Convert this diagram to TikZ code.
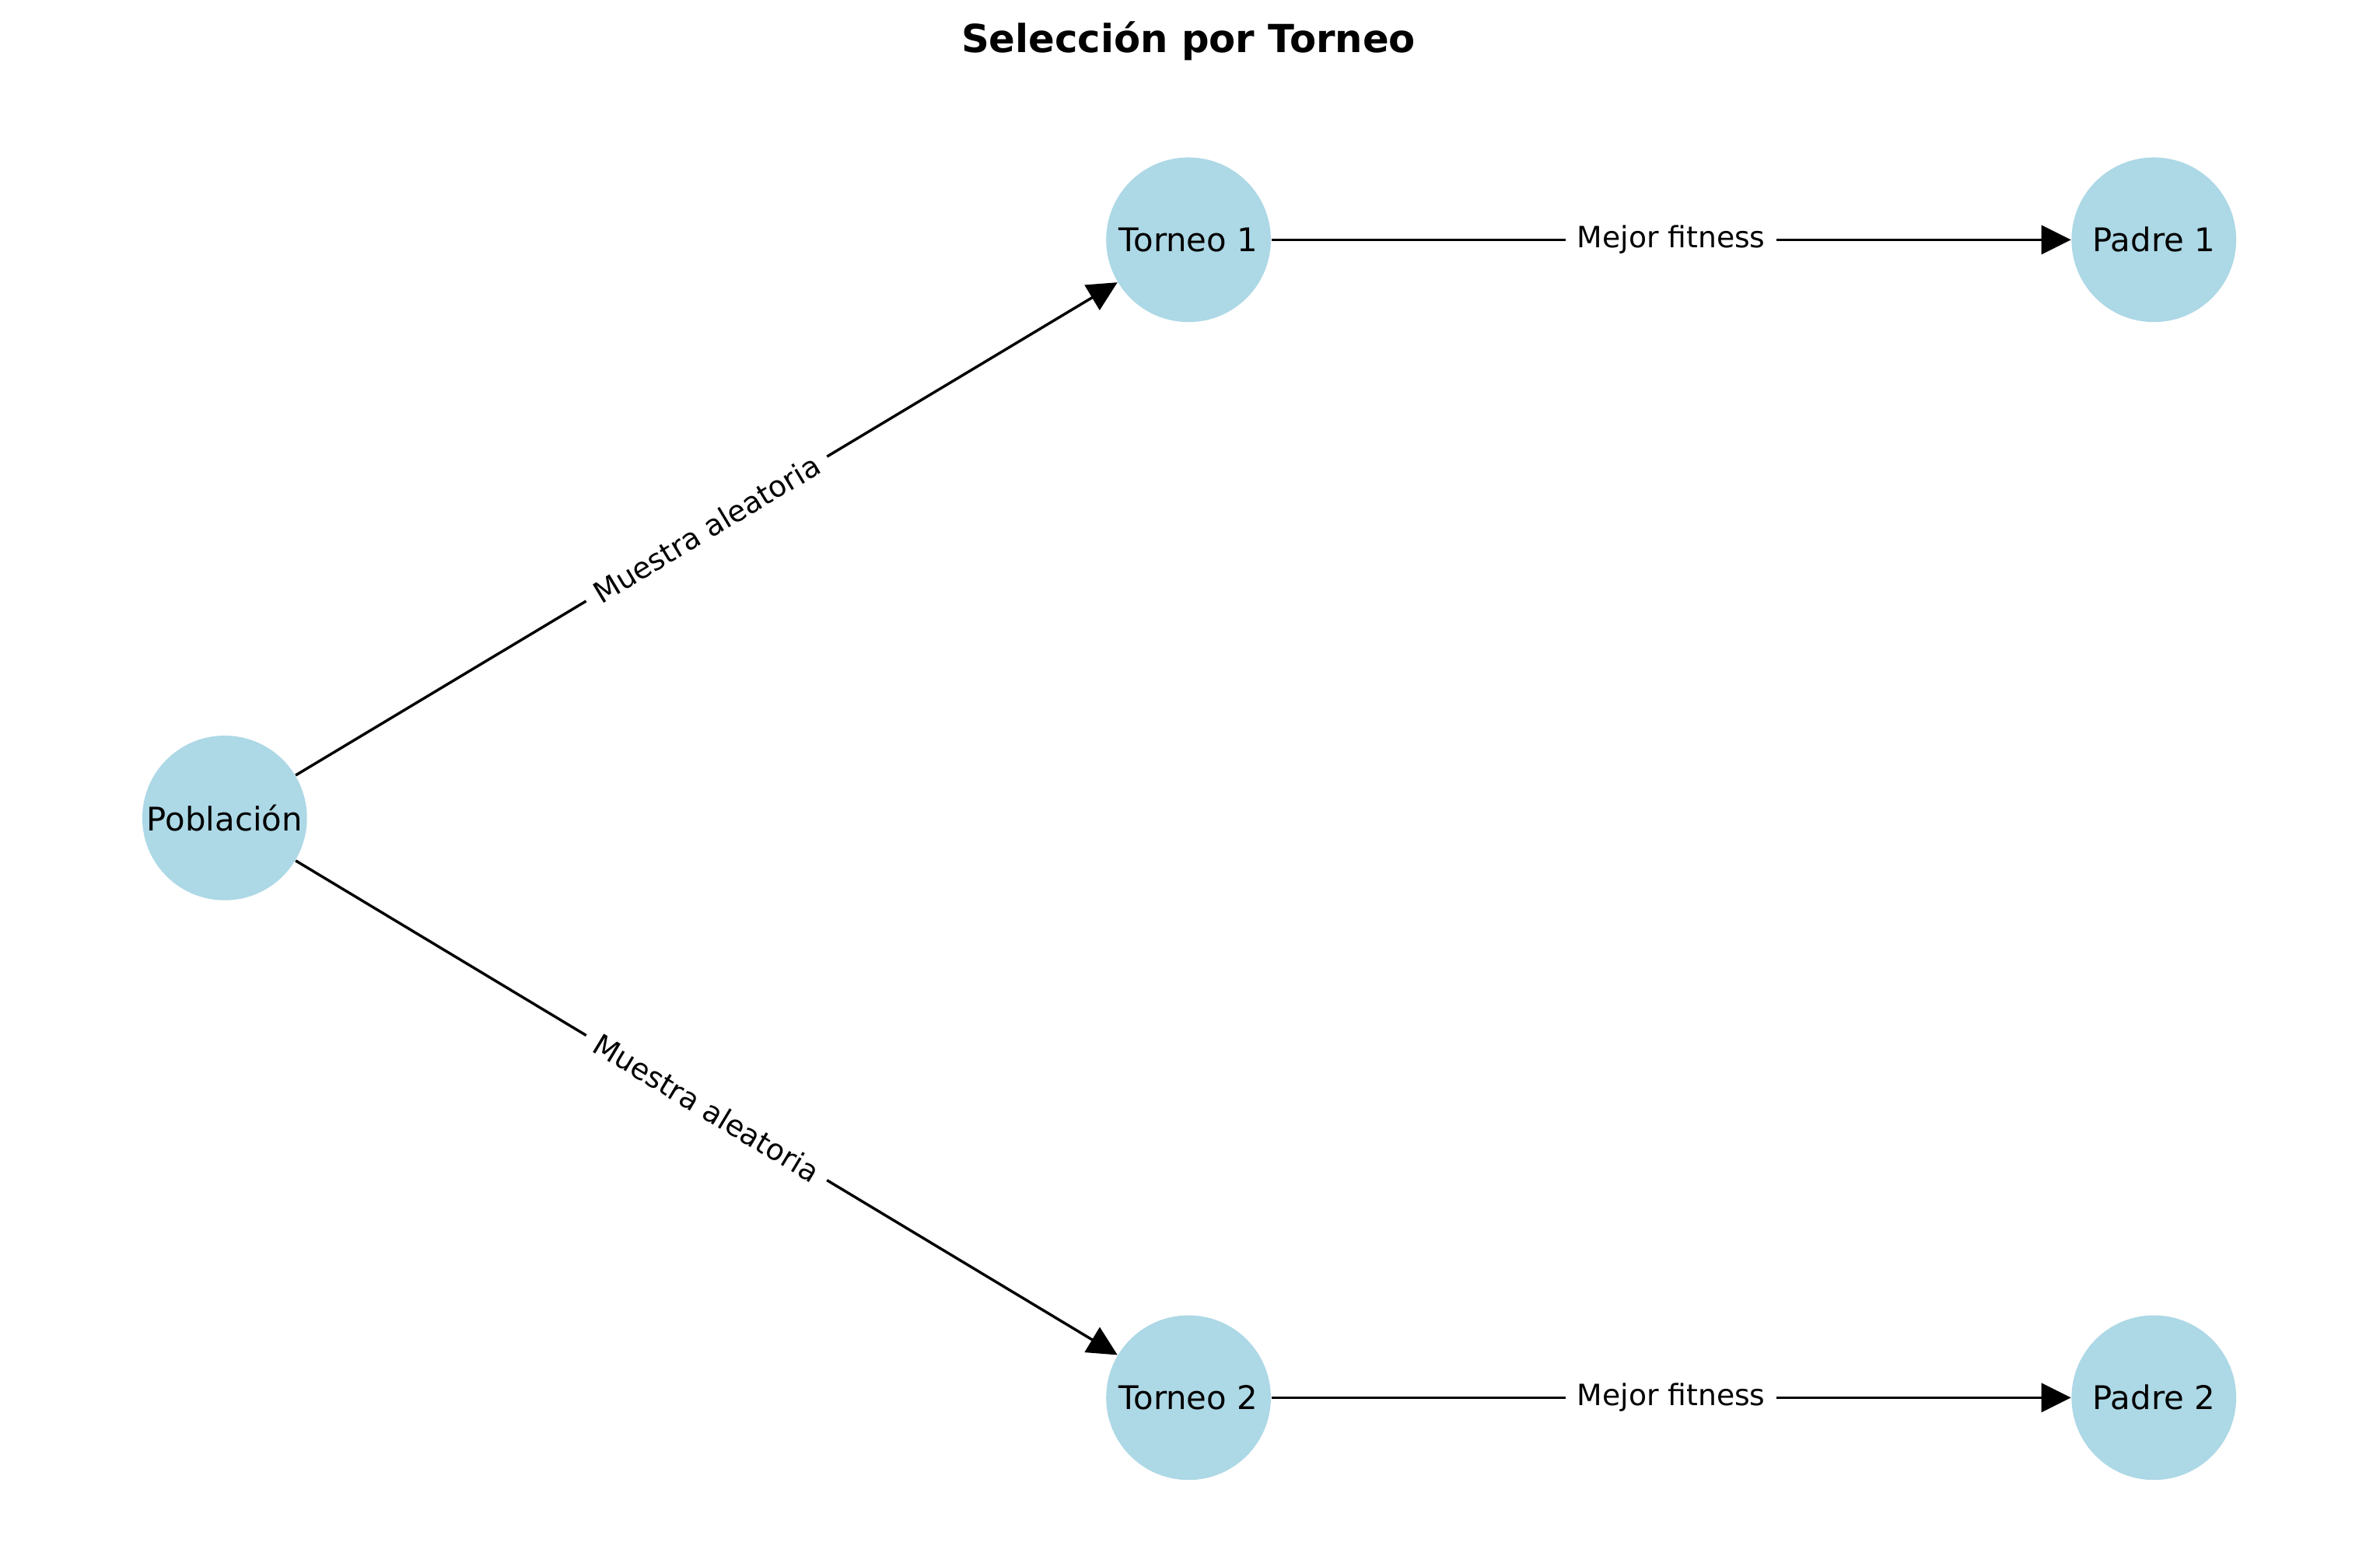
\documentclass[tikz,border=0pt]{standalone}
\usepackage{fontspec}
\setmainfont{DejaVu Sans}
\usepackage{tikz}
\usepackage{xcolor}
\usetikzlibrary{arrows.meta}

\definecolor{nodeblue}{RGB}{173,216,230}

\begin{document}
\begin{tikzpicture}[
    nodo/.style={circle, fill=nodeblue, minimum size=2.17cm, inner sep=0pt, font=\fontsize{12.2}{14}\selectfont},
    flecha/.style={-{Triangle[length=3.9mm, width=3.8mm]}, line width=1pt},
    etiqueta/.style={fill=white, inner sep=1.5mm, font=\fontsize{11}{13}\selectfont}
  ]
		\useasboundingbox (0,0) rectangle (31.36,20.32);
		\node[font=\bfseries\fontsize{14.5}{17}\selectfont] (titulo) at (15.66,19.78) {Selección por Torneo};
		\node[nodo] (pob) at (2.96,9.54) {Población};
		\foreach \i/\y in {1/17.16, 2/1.90} {
			\node[nodo] (t\i) at (15.66,\y) {Torneo \i};
			\node[nodo] (p\i) at (28.38,\y) {Padre \i};
			\draw[flecha] (pob) -- node[etiqueta, sloped] {Muestra aleatoria} (t\i);
			\draw[flecha] (t\i) -- node[etiqueta] {Mejor fitness} (p\i);
		}
	\end{tikzpicture}
\end{document}
